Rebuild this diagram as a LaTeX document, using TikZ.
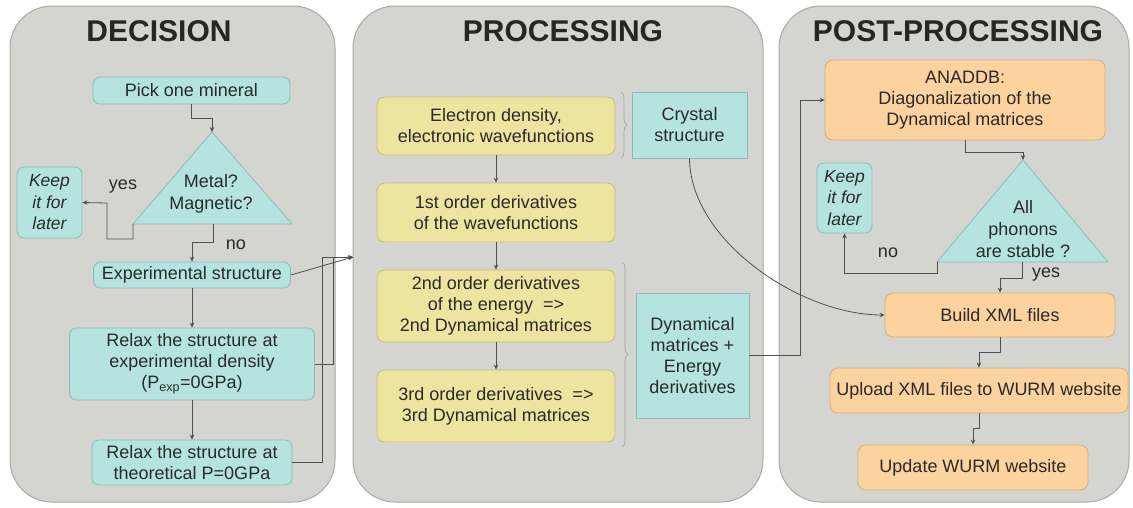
\documentclass[tikz,border=0pt]{standalone}
\usepackage{fontspec}
\setmainfont{Liberation Sans}
\usetikzlibrary{arrows.meta,decorations.pathreplacing,calc}
\definecolor{panelfill}{HTML}{D4D4D1}
\definecolor{paneldraw}{HTML}{A9A9A6}
\definecolor{cyanfill}{HTML}{B5E3E0}
\definecolor{cyandraw}{HTML}{8DBAB7}
\definecolor{yelfill}{HTML}{ECE49F}
\definecolor{yeldraw}{HTML}{C8BF7C}
\definecolor{orfill}{HTML}{FCD29F}
\definecolor{ordraw}{HTML}{D8AE7E}
\definecolor{linec}{HTML}{505050}
\definecolor{txt}{HTML}{2A2A2A}
\tikzset{
  panel/.style={draw=paneldraw, fill=panelfill, line width=1pt, rounded corners=42pt, inner sep=0pt},
  ttl/.style={font=\fontsize{30}{33}\selectfont\bfseries, text=black!85},
  bodyf/.style={font=\fontsize{18}{21}\selectfont, text=txt, align=center, inner sep=1pt},
  cbox/.style={bodyf, draw=cyandraw, fill=cyanfill, line width=0.8pt, rounded corners=7pt},
  cbsq/.style={bodyf, draw=cyandraw, fill=cyanfill, line width=0.8pt},
  ybox/.style={bodyf, draw=yeldraw, fill=yelfill, line width=0.8pt, rounded corners=8pt},
  obox/.style={bodyf, draw=ordraw, fill=orfill, line width=0.8pt, rounded corners=8pt},
  tri/.style={draw=cyandraw, fill=cyanfill, line width=0.8pt},
  conn/.style={draw=linec, line width=0.8pt, -{Stealth[length=5pt,width=4.5pt]}},
  plain/.style={draw=linec, line width=0.8pt},
  lbl/.style={font=\fontsize{18}{21}\selectfont, text=txt, inner sep=0pt},
  brc/.style={draw=gray!70, line width=0.7pt, decorate, decoration={brace, amplitude=6pt}}
}
\begin{document}
\begin{tikzpicture}[x=1pt, y=-1pt]
\useasboundingbox (0,0) rectangle (1133,507);
\fill[white] (0,0) rectangle (1133,507);

% panels
\node[panel, minimum width=325pt, minimum height=496pt] (p1) at (172.5,254) {};
\node[panel, minimum width=410pt, minimum height=496pt] (p2) at (558,254) {};
\node[panel, minimum width=350pt, minimum height=496pt] (p3) at (954,254) {};

\node[ttl] (t1title) at (159,31) {DECISION};
\node[ttl] (t2title) at (563,31) {PROCESSING};
\node[ttl] (t3title) at (958,31) {POST-PROCESSING};

% ---------- DECISION ----------
\node[cbox, minimum width=197pt, minimum height=27pt] (pick) at (191.5,90.5) {Pick one mineral};

\coordinate (t1top) at (212,132);
\coordinate (t1left) at (133,224);
\coordinate (t1right) at (292,224);
\coordinate (t1b) at (213,224);
\draw[tri] (t1top) -- (t1right) -- (t1left) -- cycle;
\node[lbl, align=center, font=\fontsize{18}{22}\selectfont] (t1txt) at (211,194) {Metal?\\Magnetic?};

\node[cbox, font=\fontsize{17.5}{21.5}\selectfont\itshape, minimum width=65pt, minimum height=71pt] (keep1) at (49.5,202.5) {Keep\\it for\\later};

\node[cbox, minimum width=197pt, minimum height=26pt] (exp) at (192,275) {Experimental structure};
\node[cbox, minimum width=245pt, minimum height=72pt] (r1) at (192,364) {Relax the structure at\\experimental density\\(P\textsubscript{exp}=0GPa)};
\node[cbox, minimum width=200pt, minimum height=45pt] (r2) at (192,462.5) {Relax the structure at\\theoretical P=0GPa};

\node[lbl] (yes1) at (123,187) {yes};
\node[lbl] (no1) at (236,245) {no};

\coordinate (ya) at (107,203);
\draw[conn] (pick.south) -- ++(0,14) -| (t1top);
\draw[conn] (t1left) -- ++(0,15) -| (ya) -- (keep1.east);
\draw[conn] (t1b) -- ++(0,18) -| (exp.north);
\draw[conn] (exp.south) -- (r1.north);
\draw[conn] (r1.south) -- (r2.north);

\coordinate (pin) at (353,257);
\coordinate (c1) at (333,257);
\coordinate (c2) at (322,257);
\draw[conn] (exp.east) -- (pin);
\draw[plain] (r1.east) -| (c1) -- (pin);
\draw[conn] (r2.east) -| (c2) -- (pin);

% ---------- PROCESSING ----------
\node[ybox, minimum width=238pt, minimum height=58pt] (e1) at (496,126) {Electron density,\\electronic wavefunctions};
\node[ybox, minimum width=238pt, minimum height=59pt] (d1) at (496,212.5) {1st order derivatives\\of the wavefunctions};
\node[ybox, minimum width=238pt, minimum height=72pt] (d2) at (496,306) {2nd order derivatives\\of the energy~~=>\\2nd Dynamical matrices};
\node[ybox, minimum width=238pt, minimum height=72pt] (d3) at (496,406) {3rd order derivatives~~=>\\3rd Dynamical matrices};
\node[cbsq, minimum width=115pt, minimum height=66pt] (crys) at (689.5,125) {Crystal\\structure};
\node[cbsq, minimum width=113pt, minimum height=125pt] (dyn) at (692.5,355.5) {Dynamical\\matrices +\\Energy\\derivatives};

\draw[brc] (621,92) -- (621,158);
\draw[brc] (622,262) -- (622,447);

\draw[conn] (e1.south) -- (d1.north);
\draw[conn] (d1.south) -- (d2.north);
\draw[conn] (d2.south) -- (d3.north);

% ---------- POST-PROCESSING ----------
\node[obox, minimum width=280pt, minimum height=80pt] (ana) at (965,100) {ANADDB:\\Diagonalization of the\\Dynamical matrices};

\coordinate (t2top) at (1023,160);
\coordinate (t2left) at (937,262);
\coordinate (t2right) at (1108,262);
\coordinate (t2b) at (1022,262);
\draw[tri] (t2top) -- (t2right) -- (t2left) -- cycle;
\node[lbl, align=center, font=\fontsize{18}{22}\selectfont] (t2txt) at (1023,229) {All\\phonons\\are stable ?};

\node[cbox, font=\fontsize{17.5}{21.5}\selectfont\itshape, minimum width=55pt, minimum height=70pt] (keep2) at (844.5,198) {Keep\\it for\\later};

\node[obox, minimum width=230pt, minimum height=44pt] (build) at (1000,315) {Build XML files};
\node[obox, minimum width=298pt, minimum height=45pt] (upload) at (979,390.5) {Upload XML files to WURM website};
\node[obox, minimum width=230pt, minimum height=45pt] (update) at (973,467.5) {Update WURM website};

\node[lbl] (no2) at (888,253) {no};
\node[lbl] (yes2) at (1046,275) {yes};

\coordinate (c3) at (800,100);
\draw[conn] (dyn.east) -| (c3) -- (ana.west);
\draw[conn] (crys.south) .. controls (690,240) and (800,315) .. (build.west);

\draw[conn] (ana.south) -- ++(0,12) -| (t2top);
\draw[conn] (t2left) -- ++(0,11) -| (keep2.south);
\draw[conn] (t2b) -- ++(0,16) -| (build.north);
\draw[conn] (build.south) -- ++(0,15) -| (upload.north);
\draw[conn] (upload.south) -- ++(0,15) -| (update.north);
\end{tikzpicture}
\end{document}
